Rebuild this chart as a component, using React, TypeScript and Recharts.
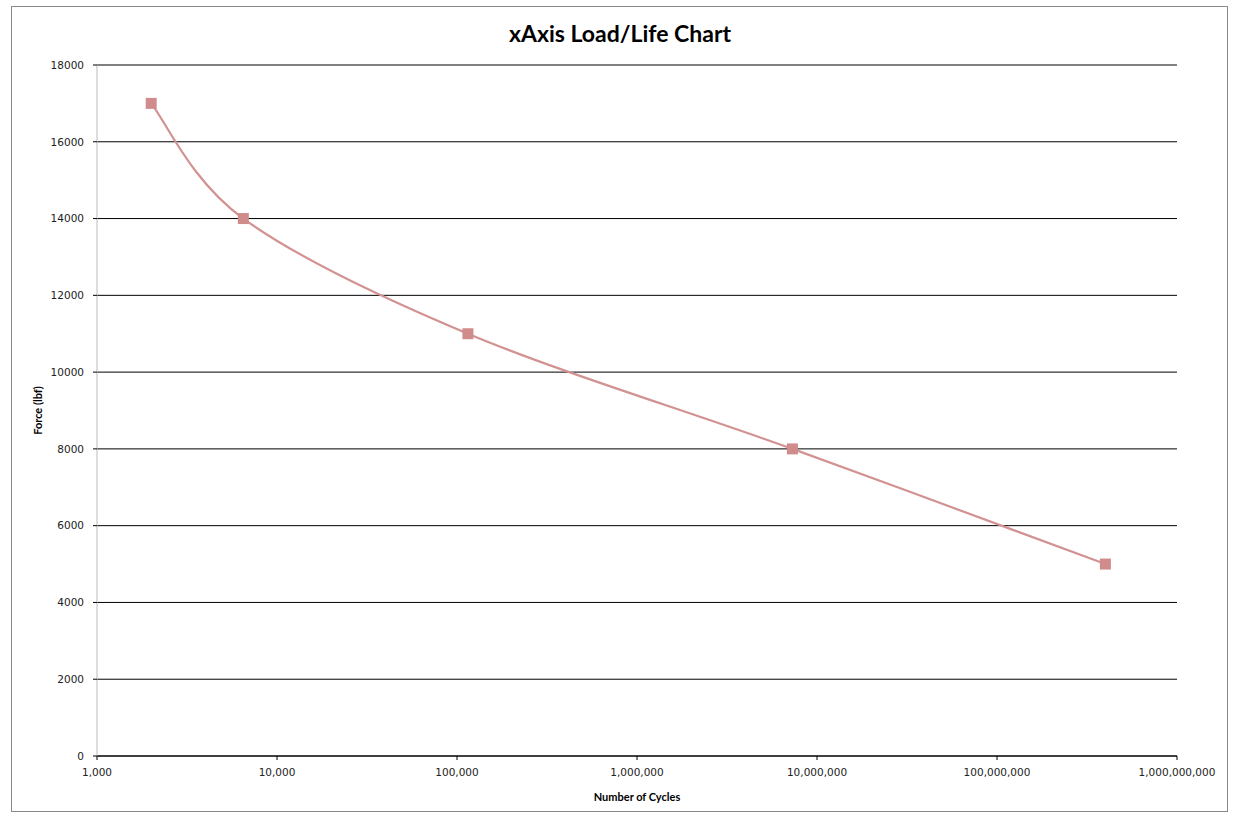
import React from 'react';
import { LineChart, Line, XAxis, YAxis, CartesianGrid } from 'recharts';

const cycles = [2000, 6500, 115000, 7300000, 400000000];
const force = [17000, 14000, 11000, 8000, 5000];
const xTicks = [1000, 10000, 100000, 1000000, 10000000, 100000000, 1000000000];
const yTicks = [0, 2000, 4000, 6000, 8000, 10000, 12000, 14000, 16000, 18000];

const data = cycles.map((c, i) => ({ cycles: c, force: force[i] }));

const LINE_COLOR = '#D39292';

// Excel-style smoothed line (Catmull-Rom style Bezier)
const excelCurve: any = (context: any) => {
  let pts: number[][] = [];
  return {
    areaStart() {},
    areaEnd() {},
    lineStart() {
      pts = [];
    },
    point(x: number, y: number) {
      pts.push([+x, +y]);
    },
    lineEnd() {
      const n = pts.length;
      if (!n) return;
      context.moveTo(pts[0][0], pts[0][1]);
      for (let i = 0; i < n - 1; i++) {
        const p0 = pts[i - 1] || pts[i];
        const p1 = pts[i];
        const p2 = pts[i + 1];
        const p3 = pts[i + 2] || pts[i + 1];
        const c1x = p1[0] + (p2[0] - p0[0]) / 6;
        const c1y = p1[1] + (p2[1] - p0[1]) / 6;
        const c2x = p2[0] - (p3[0] - p1[0]) / 6;
        const c2y = p2[1] - (p3[1] - p1[1]) / 6;
        context.bezierCurveTo(c1x, c1y, c2x, c2y, p2[0], p2[1]);
      }
    },
  };
};

const SquareDot = (props: any) => {
  const { cx, cy, index } = props;
  if (cx == null || cy == null) return null;
  return <rect key={`d${index}`} x={cx - 5.5} y={cy - 5.5} width={11} height={11} fill="#D08C8C" />;
};

export default function App() {
  return (
    <div style={{ position: 'absolute', left: 0, top: 0, width: 1240, height: 817, background: '#fff' }}>
      <div
        style={{
          position: 'absolute',
          left: 11,
          top: 6,
          width: 1217,
          height: 806,
          border: '1px solid #8a8a8a',
          boxSizing: 'border-box',
        }}
      />
      <div
        style={{
          position: 'absolute',
          left: 0,
          top: 19,
          width: 1240,
          textAlign: 'center',
          fontFamily: 'Lato, sans-serif',
          fontWeight: 700,
          fontSize: 23,
          color: '#000',
          lineHeight: '28px',
        }}
      >
        xAxis Load/Life Chart
      </div>
      <div style={{ position: 'absolute', left: 0, top: 0 }}>
        <LineChart width={1240} height={817} data={data} margin={{ top: 65, right: 63, bottom: 0, left: 0 }}>
          <CartesianGrid vertical={false} stroke="#000" strokeWidth={1} />
          <XAxis
            dataKey="cycles"
            type="number"
            scale="log"
            domain={[1000, 1000000000]}
            ticks={xTicks}
            allowDataOverflow
            height={61}
            stroke="#000"
            tickSize={4}
            tickMargin={9}
            tick={{ fontFamily: 'DejaVu Sans, sans-serif', fontSize: 10.5, fill: '#222' }}
            tickFormatter={(v: number) => v.toLocaleString('en-US')}
            label={{
              content: (p: any) => {
                const vb = p.viewBox || {};
                return (
                  <text
                    x={vb.x + vb.width / 2}
                    y={vb.y + 40}
                    textAnchor="middle"
                    dominantBaseline="central"
                    fontFamily="Lato, sans-serif"
                    fontWeight={700}
                    fontSize={11}
                    fill="#000"
                  >
                    Number of Cycles
                  </text>
                );
              },
            }}
          />
          <YAxis
            dataKey="force"
            type="number"
            domain={[0, 18000]}
            ticks={yTicks}
            width={97}
            axisLine={{ stroke: '#bbbbbb' }}
            tickLine={{ stroke: '#000' }}
            tickSize={4}
            tickMargin={9}
            tick={{ fontFamily: 'DejaVu Sans, sans-serif', fontSize: 10.5, fill: '#222' }}
            label={{
              content: (p: any) => {
                const vb = p.viewBox || {};
                const cx = 37;
                const cy = vb.y + vb.height / 2;
                return (
                  <text
                    x={cx}
                    y={cy}
                    transform={`rotate(-90 ${cx} ${cy})`}
                    textAnchor="middle"
                    dominantBaseline="central"
                    fontFamily="Lato, sans-serif"
                    fontWeight={700}
                    fontSize={11}
                    fill="#000"
                  >
                    Force (lbf)
                  </text>
                );
              },
            }}
          />
          <Line
            type={excelCurve}
            dataKey="force"
            stroke={LINE_COLOR}
            strokeWidth={2.2}
            dot={SquareDot}
            activeDot={false}
            isAnimationActive={false}
          />
        </LineChart>
      </div>
    </div>
  );
}
